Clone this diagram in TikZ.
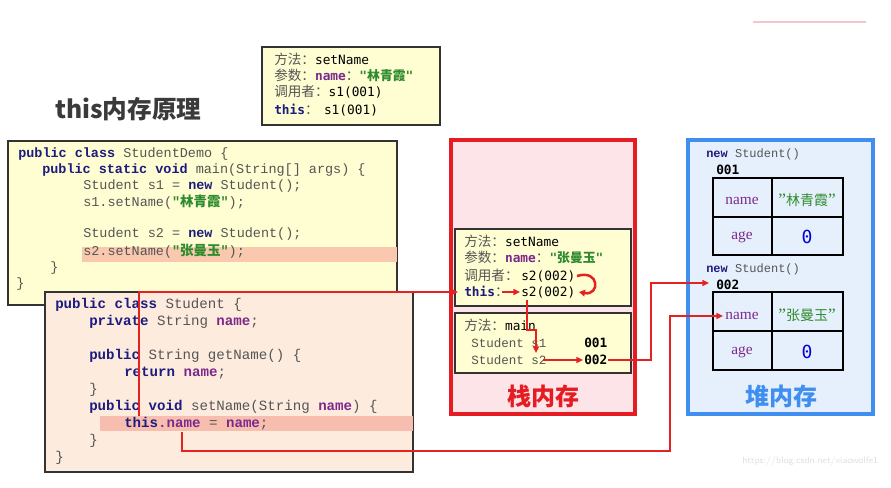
\documentclass[tikz,border=0pt]{standalone}
\usepackage{fontspec}
\usetikzlibrary{arrows.meta}
\setmonofont{Liberation Mono}
\newfontfamily\cjk{Noto Sans CJK SC}
\newfontfamily\dvm{DejaVu Sans Mono}
\newfontfamily\lmono{Liberation Mono}
\newfontfamily\lserif{Liberation Serif}
\definecolor{kwc}{HTML}{1C1C7E}
\definecolor{purp}{HTML}{7B2A8C}
\definecolor{strg}{HTML}{2E8B2E}
\definecolor{codegray}{HTML}{555555}
\definecolor{yel}{HTML}{FFFDD2}
\definecolor{peach}{HTML}{FDEBDE}
\definecolor{hlA}{HTML}{F9C8AE}
\definecolor{hlB}{HTML}{F7BEB0}
\definecolor{stackfill}{HTML}{FCE4E8}
\definecolor{stackred}{HTML}{E51C22}
\definecolor{heapfill}{HTML}{E6F0FC}
\definecolor{heapblue}{HTML}{3F8EF0}
\definecolor{arrred}{HTML}{E52222}
\definecolor{boxline}{HTML}{333333}
\newcommand\kw[1]{{\bfseries\color{kwc}#1}}
\newcommand\nmw[1]{{\bfseries\color{purp}#1}}
\newcommand\zh[1]{{\cjk #1}}
\newcommand\sg[1]{{\bfseries\color{strg}#1}}
\newcommand\zhs[1]{{\fontsize{10.2}{11}\selectfont\cjk\color{codegray}#1}}
\newcommand\hq{{\lserif\fontsize{13}{12}\selectfont ”}}
\tikzset{
  democode/.style={anchor=base west, inner sep=0pt, text=codegray, font=\fontsize{10.1}{11}\selectfont\lmono},
  stucode/.style={anchor=base west, inner sep=0pt, text=codegray, font=\fontsize{10.6}{11}\selectfont\lmono},
  frametext/.style={anchor=base west, inner sep=0pt, text=black, font=\fontsize{9.6}{11}\selectfont\dvm},
  mainvar/.style={anchor=base west, inner sep=0pt, text=codegray, font=\fontsize{9.4}{11}\selectfont\lmono},
  framebox/.style={fill=yel, draw=boxline, line width=1pt},
  cell/.style={inner sep=0pt, text=purp, font=\fontsize{11.5}{12}\selectfont\lserif},
  zero/.style={inner sep=0pt, text=blue!85!black, font=\fontsize{13.5}{14}\selectfont\dvm},
  cnval/.style={inner sep=0pt, text=strg, font=\fontsize{10.5}{12}\selectfont\cjk},
  rarr/.style={draw=arrred, line width=1.1pt, -{Triangle[length=5pt,width=4.5pt]}},
  tbl/.style={draw=black, line width=2.2pt},
}
\begin{document}
\begin{tikzpicture}[x=0.75pt,y=-0.75pt]
\useasboundingbox (0,0) rectangle (891,488);
\fill[white] (0,0) rectangle (891,488);
% faint header line
\draw[color={rgb,255:red,244;green,198;blue,204}, line width=0.8pt] (753,22) -- (866,22);

% title
\node[anchor=base west, inner sep=0pt, text={rgb,255:red,58;green,58;blue,58}, font=\fontsize{18.5}{20}\selectfont\cjk\bfseries] (title) at (55,119) {this内存原理};

% top info box
\path[framebox, line width=1.2pt] (262,47) rectangle (440,125);
\node[frametext] (t1) at (274,65) {\zhs{方法：}setName};
\node[frametext] (t2) at (274,81) {\zhs{参数：}\nmw{name}\zhs{：}\sg{"\zh{林青霞}"}};
\node[frametext] (t3) at (274,97) {\zhs{调用者：}s1(001)};
\node[frametext] (t4) at (274,115) {\kw{this}\zhs{：}\hspace{4pt}s1(001)};

% StudentDemo box
\path[framebox, line width=1.2pt] (8,141) rectangle (397,305);
\fill[hlA] (82,247) rectangle (397,262);
\node[democode] (d1) at (18,158) {\kw{public class} StudentDemo \{};
\node[democode] (d2) at (42,174) {\kw{public static void} main(String[] args) \{};
\node[democode] (d3) at (83,190) {Student s1 = \kw{new} Student();};
\node[democode] (d4) at (83,207) {s1.setName(\sg{"\zh{林青霞}"});};
\node[democode] (d5) at (83,238) {Student s2 = \kw{new} Student();};
\node[democode] (d6) at (83,255) {s2.setName(\sg{"\zh{张曼玉}"});};
\node[democode] (d7) at (50,271) {\}};
\node[democode] (d8) at (16,287) {\}};

% Student box
\path[fill=peach, draw=boxline, line width=1.2pt] (45,292) rectangle (413,472);
\fill[hlB] (100,416) rectangle (413,431);
\node[stucode] (s1) at (55,308) {\kw{public class} Student \{};
\node[stucode] (s2) at (89,325) {\kw{private} String \nmw{name};};
\node[stucode] (s3) at (89,359) {\kw{public} String getName() \{};
\node[stucode] (s4) at (124,376) {\kw{return} \nmw{name};};
\node[stucode] (s5) at (89,393) {\}};
\node[stucode] (s6) at (89,410) {\kw{public void} setName(String \nmw{name}) \{};
\node[stucode] (s7) at (124,427) {\kw{this}\nmw{.name} = \nmw{name};};
\node[stucode] (s8) at (89,444) {\}};
\node[stucode] (s9) at (55,461) {\}};

% stack memory
\path[fill=stackfill, draw=stackred, line width=2.4pt] (451,140) rectangle (635,414);
\path[framebox] (455,229) rectangle (631,306);
\path[framebox] (455,313) rectangle (631,373);
\node[frametext] (f1) at (464,246) {\zhs{方法：}setName};
\node[frametext] (f2) at (464,262) {\zhs{参数：}\nmw{name}\zhs{：}\sg{"\zh{张曼玉}"}};
\node[frametext] (f3a) at (464,280) {\zhs{调用者：}};
\node[frametext] (f3b) at (521,280) {s2(002)};
\node[frametext] (f4a) at (464,296) {\kw{this}\zhs{：}};
\node[frametext] (f4b) at (521,296) {s2(002)};
\node[frametext] (m1) at (464,330) {\zhs{方法：}main};
\node[mainvar] (m2) at (471,347) {Student s1};
\node[mainvar] (m3) at (471,364) {Student s2};
\node[frametext, font=\fontsize{9.6}{11}\selectfont\dvm\bfseries] (m2v) at (584,347) {001};
\node[frametext, font=\fontsize{9.6}{11}\selectfont\dvm\bfseries] (m3v) at (584,364) {002};
\node[inner sep=0pt, text=stackred, font=\fontsize{18}{20}\selectfont\cjk\bfseries] (stitle) at (543,396) {栈内存};

% heap memory
\path[fill=heapfill, draw=heapblue, line width=2.4pt] (688,140) rectangle (873,414);
\node[anchor=base west, inner sep=0pt, text=codegray, font=\fontsize{9}{10}\selectfont\lmono] (h1) at (706,158) {\kw{new} Student()};
\node[anchor=base west, inner sep=0pt, font=\fontsize{9.6}{10}\selectfont\dvm\bfseries] (h1a) at (716,175) {001};
\path[tbl] (713,178) rectangle (843,255);
\draw[tbl] (772,178) -- (772,255) (713,217) -- (843,217);
\node[cell] (n1) at (742,201) {name};
\node[cnval] (v1) at (807,200) {\hq 林青霞\hq};
\node[cell] (a1) at (742,237) {age};
\node[zero] (z1) at (807,237) {0};
\node[anchor=base west, inner sep=0pt, text=codegray, font=\fontsize{9}{10}\selectfont\lmono] (h2) at (706,272) {\kw{new} Student()};
\node[anchor=base west, inner sep=0pt, font=\fontsize{9.6}{10}\selectfont\dvm\bfseries] (h2a) at (716,289) {002};
\path[tbl] (713,292) rectangle (843,370);
\draw[tbl] (772,292) -- (772,370) (713,331) -- (843,331);
\node[cell] (n2) at (742,316) {name};
\node[cnval] (v2) at (807,315) {\hq 张曼玉\hq};
\node[cell] (a2) at (742,352) {age};
\node[zero] (z2) at (807,352) {0};
\node[inner sep=0pt, text=heapblue, font=\fontsize{18}{20}\selectfont\cjk\bfseries] (htitle) at (781,396) {堆内存};

% watermark
\node[anchor=base west, inner sep=0pt, text=black!12, font=\fontsize{7}{8}\selectfont\sffamily] (wm) at (742,463) {https://blog.csdn.net/xiaowolfe1};

% connectors
\coordinate (c1a) at (139,416);
\coordinate (c1b) at (139,292);
\coordinate (c1c) at (458,292);
\draw[rarr] (c1a) -- (c1b) -- (c1c);
\coordinate (c2a) at (182,432);
\coordinate (c2b) at (182,451);
\coordinate (c2c) at (670,451);
\coordinate (c2d) at (670,316);
\coordinate (c2e) at (723,316);
\draw[rarr] (c2a) -- (c2b) -- (c2c) -- (c2d) -- (c2e);
\coordinate (c3a) at (608,360);
\coordinate (c3b) at (651,360);
\coordinate (c3c) at (651,283);
\coordinate (c3d) at (709,283);
\draw[rarr] (c3a) -- (c3b) -- (c3c) -- (c3d);
\coordinate (c4a) at (502,292);
\coordinate (c4b) at (520,292);
\draw[rarr] (c4a) -- (c4b);
\coordinate (c5a) at (543,360);
\coordinate (c5b) at (583,360);
\draw[rarr] (c5a) -- (c5b);
\coordinate (c6a) at (527,300);
\coordinate (c6b) at (527,330);
\coordinate (c6c) at (536,330);
\coordinate (c6d) at (536,353);
\draw[rarr] (c6a) -- (c6b) -- (c6c) -- (c6d);
\coordinate (c7a) at (577,276);
\coordinate (c7b) at (579,292);
\draw[draw=arrred, line width=1.9pt, -{Triangle[length=4.5pt,width=5pt]}] (c7a) .. controls (600,269) and (600,296) .. (c7b);
\end{tikzpicture}
\end{document}
